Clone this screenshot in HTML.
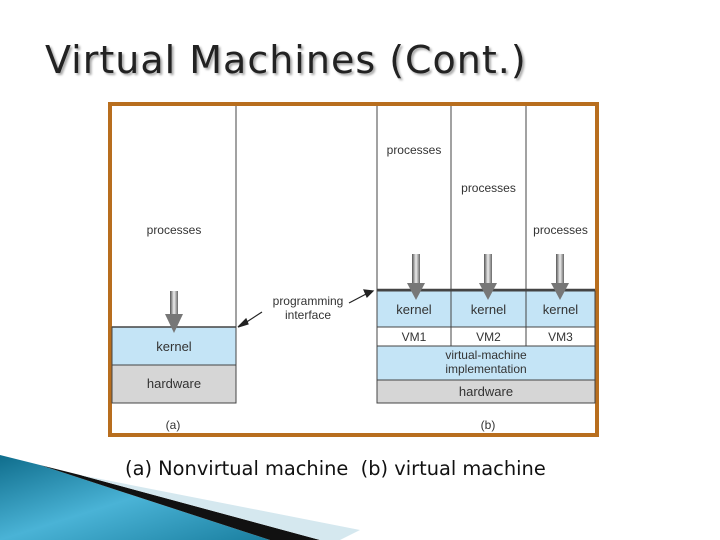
<!DOCTYPE html>
<html><head><style>
body{margin:0;width:720px;height:540px;background:#fff;position:relative;overflow:hidden;font-family:"Liberation Sans",sans-serif}
.a{position:absolute}
.t{position:absolute;font-size:12px;color:#333;text-align:center}
</style></head><body>
<div class="a" style="left:45px;top:38px;font-family:'DejaVu Sans',sans-serif;font-size:38px;letter-spacing:1px;color:#222;text-shadow:2px 2px 2px #aaa;white-space:nowrap">Virtual Machines (Cont.)</div>
<div class="a" style="left:108px;top:102px;width:483px;height:327px;border:4px solid #b86e1e;background:#fff"></div>
<svg class="a" style="left:0;top:0" width="720" height="540">
<defs><linearGradient id="g" x1="0" x2="1"><stop offset="0" stop-color="#555"/><stop offset=".5" stop-color="#eee"/><stop offset="1" stop-color="#666"/></linearGradient>
<linearGradient id="b" x1="0" y1="0" x2="1" y2="1"><stop offset="0" stop-color="#0f6d8c"/><stop offset=".5" stop-color="#4ab3d6"/><stop offset="1" stop-color="#1a7fa0"/></linearGradient></defs>
<g stroke="#444" stroke-width="1">
<rect x="112" y="327" width="124" height="38" fill="#c4e4f6"/>
<rect x="112" y="365" width="124" height="38" fill="#d6d6d6"/>
<line x1="236" y1="106" x2="236" y2="327"/>
<rect x="377" y="291" width="218" height="36" fill="#c4e4f6"/>
<rect x="377" y="327" width="218" height="19" fill="#fff"/>
<rect x="377" y="346" width="218" height="34" fill="#c4e4f6"/>
<rect x="377" y="380" width="218" height="23" fill="#d6d6d6"/>
<line x1="377" y1="106" x2="377" y2="291"/>
<line x1="451" y1="106" x2="451" y2="346"/>
<line x1="526" y1="106" x2="526" y2="346"/>
<line x1="377" y1="290" x2="595" y2="290" stroke-width="2.5"/>
<line x1="112" y1="327" x2="236" y2="327" stroke-width="1.5"/>
</g>
<g stroke="none" fill="url(#g)">
<rect x="170" y="291" width="8" height="24"/><polygon points="165,314 183,314 174,333" fill="#777"/>
<rect x="412" y="254" width="8" height="30"/><polygon points="407,283 425,283 416,300" fill="#777"/>
<rect x="484" y="254" width="8" height="30"/><polygon points="479,283 497,283 488,300" fill="#777"/>
<rect x="556" y="254" width="8" height="30"/><polygon points="551,283 569,283 560,300" fill="#777"/>
</g>
<g stroke="#222" stroke-width="1.2" fill="#222">
<line x1="262" y1="312" x2="242" y2="325"/><polygon points="238,327 246,319 248,324"/>
<line x1="349" y1="303" x2="368" y2="293"/><polygon points="373,291 364,290 367,297"/>
</g>
<polygon points="0,455 40,465 270,540 0,540" fill="url(#b)"/>
<polygon points="40,465 80,475 320,540 270,540" fill="#111"/>
<polygon points="80,475 360,530 340,540 320,540" fill="#d5e8ef"/>
</svg>
<div class="t" style="left:112px;top:223px;width:124px">processes</div>
<div class="t" style="left:112px;top:339px;width:124px;font-size:13px">kernel</div>
<div class="t" style="left:112px;top:376px;width:124px;font-size:13px">hardware</div>
<div class="t" style="left:258px;top:294px;width:100px;line-height:14px">programming<br>interface</div>
<div class="t" style="left:377px;top:143px;width:74px">processes</div>
<div class="t" style="left:451px;top:181px;width:75px">processes</div>
<div class="t" style="left:524px;top:223px;width:73px">processes</div>
<div class="t" style="left:377px;top:302px;width:74px;font-size:13px">kernel</div>
<div class="t" style="left:451px;top:302px;width:75px;font-size:13px">kernel</div>
<div class="t" style="left:526px;top:302px;width:69px;font-size:13px">kernel</div>
<div class="t" style="left:377px;top:330px;width:74px">VM1</div>
<div class="t" style="left:451px;top:330px;width:75px">VM2</div>
<div class="t" style="left:526px;top:330px;width:69px">VM3</div>
<div class="t" style="left:377px;top:348px;width:218px;line-height:14px">virtual-machine<br>implementation</div>
<div class="t" style="left:377px;top:384px;width:218px;font-size:13px">hardware</div>
<div class="t" style="left:153px;top:418px;width:40px">(a)</div>
<div class="t" style="left:468px;top:418px;width:40px">(b)</div>
<div class="a" style="left:125px;top:457px;font-size:19.4px;font-family:'DejaVu Sans',sans-serif;color:#111;white-space:nowrap">(a) Nonvirtual machine&nbsp;&nbsp;(b) virtual machine</div>
</body></html>
